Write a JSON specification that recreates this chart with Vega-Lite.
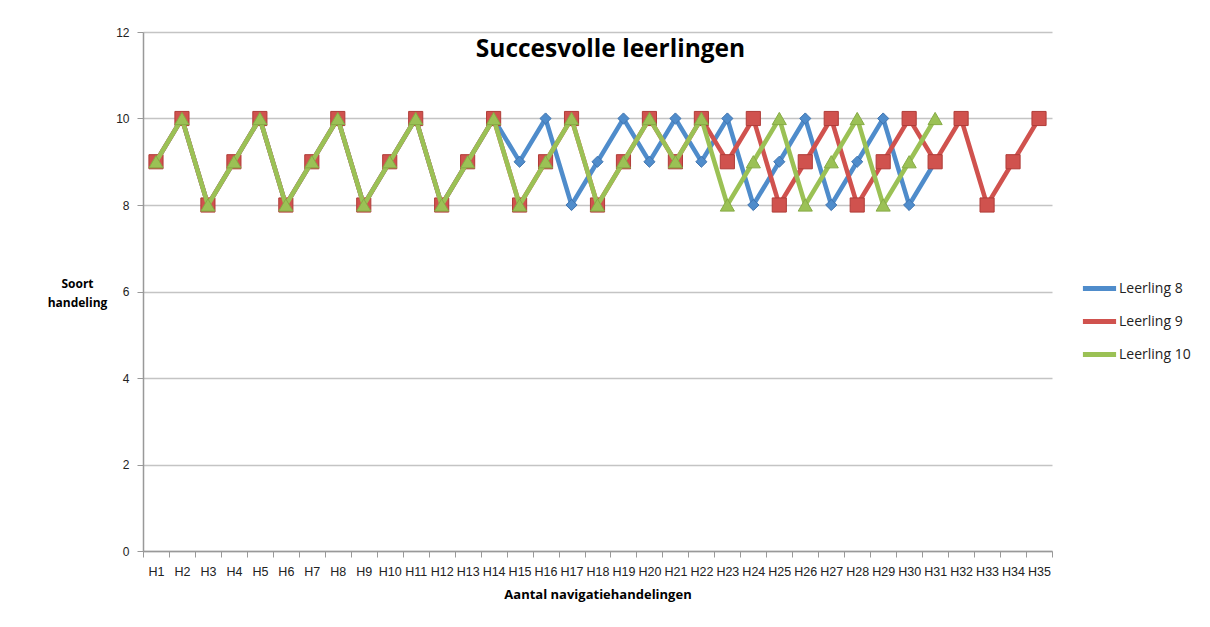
{
  "$schema": "https://vega.github.io/schema/vega-lite/v6.json",
  "autosize": "none",
  "width": 909,
  "height": 519,
  "padding": {"left": 143, "top": 32, "right": 158, "bottom": 76},
  "background": "white",
  "config": {"view": {"stroke": null}, "font": "Liberation Sans"},
  "title": {"text": "Succesvolle leerlingen", "fontSize": 24.5, "fontWeight": "bold", "font": "Open Sans", "color": "#000000", "anchor": "middle", "dx": 13, "offset": -55, "baseline": "alphabetic"},
  "data": {"values": [
    {"n":1,"h":"H1","s":"Leerling 8","v":9},{"n":2,"h":"H2","s":"Leerling 8","v":10},{"n":3,"h":"H3","s":"Leerling 8","v":8},{"n":4,"h":"H4","s":"Leerling 8","v":9},{"n":5,"h":"H5","s":"Leerling 8","v":10},{"n":6,"h":"H6","s":"Leerling 8","v":8},{"n":7,"h":"H7","s":"Leerling 8","v":9},{"n":8,"h":"H8","s":"Leerling 8","v":10},{"n":9,"h":"H9","s":"Leerling 8","v":8},{"n":10,"h":"H10","s":"Leerling 8","v":9},{"n":11,"h":"H11","s":"Leerling 8","v":10},{"n":12,"h":"H12","s":"Leerling 8","v":8},{"n":13,"h":"H13","s":"Leerling 8","v":9},{"n":14,"h":"H14","s":"Leerling 8","v":10},{"n":15,"h":"H15","s":"Leerling 8","v":9},{"n":16,"h":"H16","s":"Leerling 8","v":10},{"n":17,"h":"H17","s":"Leerling 8","v":8},{"n":18,"h":"H18","s":"Leerling 8","v":9},{"n":19,"h":"H19","s":"Leerling 8","v":10},{"n":20,"h":"H20","s":"Leerling 8","v":9},{"n":21,"h":"H21","s":"Leerling 8","v":10},{"n":22,"h":"H22","s":"Leerling 8","v":9},{"n":23,"h":"H23","s":"Leerling 8","v":10},{"n":24,"h":"H24","s":"Leerling 8","v":8},{"n":25,"h":"H25","s":"Leerling 8","v":9},{"n":26,"h":"H26","s":"Leerling 8","v":10},{"n":27,"h":"H27","s":"Leerling 8","v":8},{"n":28,"h":"H28","s":"Leerling 8","v":9},{"n":29,"h":"H29","s":"Leerling 8","v":10},{"n":30,"h":"H30","s":"Leerling 8","v":8},{"n":31,"h":"H31","s":"Leerling 8","v":9},
    {"n":1,"h":"H1","s":"Leerling 9","v":9},{"n":2,"h":"H2","s":"Leerling 9","v":10},{"n":3,"h":"H3","s":"Leerling 9","v":8},{"n":4,"h":"H4","s":"Leerling 9","v":9},{"n":5,"h":"H5","s":"Leerling 9","v":10},{"n":6,"h":"H6","s":"Leerling 9","v":8},{"n":7,"h":"H7","s":"Leerling 9","v":9},{"n":8,"h":"H8","s":"Leerling 9","v":10},{"n":9,"h":"H9","s":"Leerling 9","v":8},{"n":10,"h":"H10","s":"Leerling 9","v":9},{"n":11,"h":"H11","s":"Leerling 9","v":10},{"n":12,"h":"H12","s":"Leerling 9","v":8},{"n":13,"h":"H13","s":"Leerling 9","v":9},{"n":14,"h":"H14","s":"Leerling 9","v":10},{"n":15,"h":"H15","s":"Leerling 9","v":8},{"n":16,"h":"H16","s":"Leerling 9","v":9},{"n":17,"h":"H17","s":"Leerling 9","v":10},{"n":18,"h":"H18","s":"Leerling 9","v":8},{"n":19,"h":"H19","s":"Leerling 9","v":9},{"n":20,"h":"H20","s":"Leerling 9","v":10},{"n":21,"h":"H21","s":"Leerling 9","v":9},{"n":22,"h":"H22","s":"Leerling 9","v":10},{"n":23,"h":"H23","s":"Leerling 9","v":9},{"n":24,"h":"H24","s":"Leerling 9","v":10},{"n":25,"h":"H25","s":"Leerling 9","v":8},{"n":26,"h":"H26","s":"Leerling 9","v":9},{"n":27,"h":"H27","s":"Leerling 9","v":10},{"n":28,"h":"H28","s":"Leerling 9","v":8},{"n":29,"h":"H29","s":"Leerling 9","v":9},{"n":30,"h":"H30","s":"Leerling 9","v":10},{"n":31,"h":"H31","s":"Leerling 9","v":9},{"n":32,"h":"H32","s":"Leerling 9","v":10},{"n":33,"h":"H33","s":"Leerling 9","v":8},{"n":34,"h":"H34","s":"Leerling 9","v":9},{"n":35,"h":"H35","s":"Leerling 9","v":10},
    {"n":1,"h":"H1","s":"Leerling 10","v":9},{"n":2,"h":"H2","s":"Leerling 10","v":10},{"n":3,"h":"H3","s":"Leerling 10","v":8},{"n":4,"h":"H4","s":"Leerling 10","v":9},{"n":5,"h":"H5","s":"Leerling 10","v":10},{"n":6,"h":"H6","s":"Leerling 10","v":8},{"n":7,"h":"H7","s":"Leerling 10","v":9},{"n":8,"h":"H8","s":"Leerling 10","v":10},{"n":9,"h":"H9","s":"Leerling 10","v":8},{"n":10,"h":"H10","s":"Leerling 10","v":9},{"n":11,"h":"H11","s":"Leerling 10","v":10},{"n":12,"h":"H12","s":"Leerling 10","v":8},{"n":13,"h":"H13","s":"Leerling 10","v":9},{"n":14,"h":"H14","s":"Leerling 10","v":10},{"n":15,"h":"H15","s":"Leerling 10","v":8},{"n":16,"h":"H16","s":"Leerling 10","v":9},{"n":17,"h":"H17","s":"Leerling 10","v":10},{"n":18,"h":"H18","s":"Leerling 10","v":8},{"n":19,"h":"H19","s":"Leerling 10","v":9},{"n":20,"h":"H20","s":"Leerling 10","v":10},{"n":21,"h":"H21","s":"Leerling 10","v":9},{"n":22,"h":"H22","s":"Leerling 10","v":10},{"n":23,"h":"H23","s":"Leerling 10","v":8},{"n":24,"h":"H24","s":"Leerling 10","v":9},{"n":25,"h":"H25","s":"Leerling 10","v":10},{"n":26,"h":"H26","s":"Leerling 10","v":8},{"n":27,"h":"H27","s":"Leerling 10","v":9},{"n":28,"h":"H28","s":"Leerling 10","v":10},{"n":29,"h":"H29","s":"Leerling 10","v":8},{"n":30,"h":"H30","s":"Leerling 10","v":9},{"n":31,"h":"H31","s":"Leerling 10","v":10}
  ]},
  "encoding": {
    "x": {"field": "h", "type": "ordinal", "sort": null,
      "scale": {"type": "band", "paddingInner": 0, "paddingOuter": 0},
      "axis": {"title": "Aantal navigatiehandelingen", "titleFontSize": 13, "titleFontWeight": "bold", "titleFont": "Open Sans", "titleColor": "#000", "titlePadding": 11,
        "labelAngle": 0, "labelFontSize": 12.5, "labelColor": "#222", "labelOverlap": false, "labelBound": false, "labelPadding": 8, "labelFont": "Liberation Sans",
        "tickBand": "extent", "tickSize": 6, "tickColor": "#999", "domainColor": "#999", "domainWidth": 1.5, "grid": false}},
    "y": {"field": "v", "type": "quantitative",
      "scale": {"domain": [0, 12]},
      "axis": {"values": [0, 2, 4, 6, 8, 10, 12], "title": ["Soort", "handeling"], "titleAngle": 0, "titleAlign": "center", "titleBaseline": "middle", "titleX": -66, "titleY": 251, "titleLineHeight": 19, "titleFontSize": 12, "titleFontWeight": "bold", "titleFont": "Open Sans", "titleColor": "#000",
        "labelFontSize": 12, "labelColor": "#222", "labelPadding": 8, "tickSize": 6, "tickColor": "#999", "domainColor": "#999", "domainWidth": 1.5,
        "grid": true, "gridColor": "#c4c4c4", "gridWidth": 1.5}},
    "order": {"field": "n", "type": "quantitative"},
    "color": {"field": "s", "type": "nominal", "sort": ["Leerling 8", "Leerling 9", "Leerling 10"],
      "scale": {"domain": ["Leerling 8", "Leerling 9", "Leerling 10"], "range": ["#4f8ccb", "#d0524e", "#9bc155"]},
      "legend": {"orient": "none", "legendX": 937, "legendY": 237, "title": null, "symbolType": "stroke", "symbolStrokeWidth": 5, "symbolSize": 1100, "labelFontSize": 14, "labelFont": "Open Sans", "labelColor": "#222", "rowPadding": 3, "labelOffset": 0}}
  },
  "layer": [
    {"transform": [{"filter": "datum.s === 'Leerling 8'"}], "mark": {"type": "line", "strokeWidth": 4.5}},
    {"transform": [{"filter": "datum.s === 'Leerling 8'"}], "mark": {"type": "point", "shape": "diamond", "filled": true, "opacity": 1, "size": 125, "strokeWidth": 1, "stroke": "#3f74b0"}},
    {"transform": [{"filter": "datum.s === 'Leerling 9'"}], "mark": {"type": "line", "strokeWidth": 4.5}},
    {"transform": [{"filter": "datum.s === 'Leerling 9'"}], "mark": {"type": "point", "shape": "square", "filled": true, "opacity": 1, "size": 200, "strokeWidth": 1, "stroke": "#b03c38"}},
    {"transform": [{"filter": "datum.s === 'Leerling 10'"}], "mark": {"type": "line", "strokeWidth": 4.5}},
    {"transform": [{"filter": "datum.s === 'Leerling 10'"}], "mark": {"type": "point", "shape": "triangle-up", "filled": true, "opacity": 1, "size": 200, "strokeWidth": 1, "stroke": "#86ab45"}}
  ]
}
